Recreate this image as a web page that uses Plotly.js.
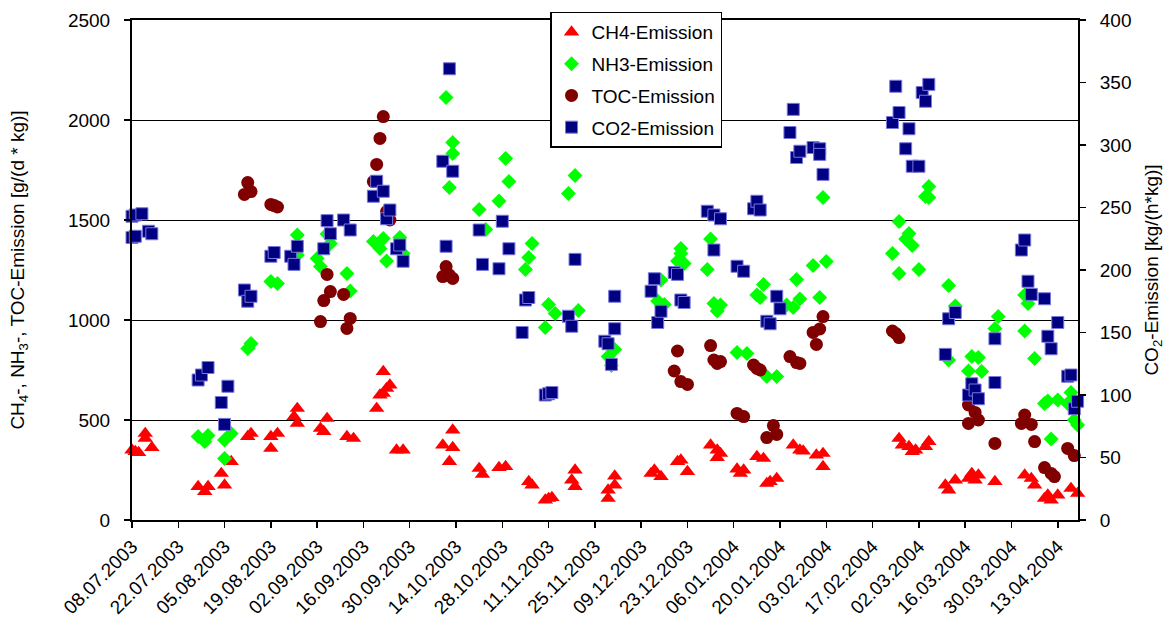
<!DOCTYPE html>
<html>
<head>
<meta charset="utf-8">
<script src="https://cdn.plot.ly/plotly-3.0.1.min.js"></script>
<style>html,body{margin:0;padding:0;background:#fff;}#chart{width:1167px;height:622px;}</style>
</head>
<body>
<div id="chart"></div>
<script>
// ---- data ----
const ch4Dates = ['2003-07-08','2003-07-09','2003-07-10','2003-07-12','2003-07-12','2003-07-14','2003-07-28','2003-07-30','2003-07-31','2003-08-04','2003-08-05','2003-08-07','2003-08-12','2003-08-13','2003-08-19','2003-08-19','2003-08-21','2003-08-26','2003-08-27','2003-08-27','2003-09-03','2003-09-04','2003-09-05','2003-09-11','2003-09-13','2003-09-20','2003-09-21','2003-09-22','2003-09-22','2003-09-23','2003-09-24','2003-09-26','2003-09-28','2003-10-10','2003-10-12','2003-10-13','2003-10-13','2003-10-21','2003-10-22','2003-10-27','2003-10-29','2003-11-05','2003-11-06','2003-11-10','2003-11-11','2003-11-12','2003-11-18','2003-11-19','2003-11-19','2003-11-29','2003-11-29','2003-12-01','2003-12-01','2003-12-12','2003-12-13','2003-12-15','2003-12-20','2003-12-21','2003-12-23','2003-12-30','2004-01-01','2004-01-01','2004-01-02','2004-01-07','2004-01-08','2004-01-09','2004-01-13','2004-01-15','2004-01-16','2004-01-17','2004-01-19','2004-01-24','2004-01-26','2004-01-27','2004-01-31','2004-02-02','2004-02-02','2004-02-25','2004-02-26','2004-02-28','2004-02-29','2004-03-01','2004-03-04','2004-03-05','2004-03-10','2004-03-11','2004-03-13','2004-03-17','2004-03-18','2004-03-19','2004-03-20','2004-03-25','2004-04-03','2004-04-05','2004-04-06','2004-04-09','2004-04-10','2004-04-11','2004-04-13','2004-04-17','2004-04-19'];
const ch4Values = [350,342,337,408,433,362,167,142,167,233,175,292,417,433,417,358,433,517,483,558,458,442,508,417,408,558,625,633,742,658,675,350,350,375,292,450,362,258,228,262,267,192,175,100,108,112,200,167,250,150,108,220,175,233,250,217,292,300,242,375,350,312,333,255,233,250,317,308,183,192,208,375,350,345,325,333,267,408,375,367,342,350,367,392,175,150,200,208,233,200,225,192,225,208,175,108,125,100,125,158,133];

const nh3Dates = ['2003-07-28','2003-07-30','2003-07-31','2003-08-05','2003-08-05','2003-08-07','2003-08-12','2003-08-13','2003-08-19','2003-08-21','2003-08-27','2003-08-27','2003-09-02','2003-09-03','2003-09-05','2003-09-06','2003-09-11','2003-09-12','2003-09-19','2003-09-21','2003-09-22','2003-09-23','2003-09-27','2003-09-28','2003-10-11','2003-10-12','2003-10-13','2003-10-13','2003-10-21','2003-10-23','2003-10-27','2003-10-29','2003-10-30','2003-11-04','2003-11-05','2003-11-06','2003-11-10','2003-11-11','2003-11-13','2003-11-17','2003-11-19','2003-11-20','2003-11-29','2003-11-30','2003-12-01','2003-12-14','2003-12-15','2003-12-16','2003-12-20','2003-12-21','2003-12-21','2003-12-22','2003-12-29','2003-12-30','2003-12-31','2004-01-01','2004-01-02','2004-01-07','2004-01-10','2004-01-13','2004-01-14','2004-01-15','2004-01-16','2004-01-19','2004-01-22','2004-01-24','2004-01-25','2004-01-26','2004-01-30','2004-02-01','2004-02-02','2004-02-03','2004-02-23','2004-02-25','2004-02-25','2004-02-27','2004-02-28','2004-02-29','2004-03-02','2004-03-04','2004-03-05','2004-03-05','2004-03-11','2004-03-11','2004-03-13','2004-03-17','2004-03-18','2004-03-20','2004-03-21','2004-03-25','2004-03-26','2004-04-03','2004-04-03','2004-04-04','2004-04-06','2004-04-09','2004-04-10','2004-04-11','2004-04-13','2004-04-16','2004-04-17','2004-04-18','2004-04-19'];
const nh3Values = [417,392,422,400,308,433,858,883,1192,1183,1425,1325,1308,1267,1430,1383,1233,1145,1392,1358,1408,1295,1412,1333,2112,1662,1888,1833,1553,1453,1595,1808,1692,1253,1312,1383,963,1078,1033,1633,1722,1047,817,772,853,1095,1200,1078,1295,1333,1358,1283,1253,1405,1083,1045,1075,837,833,1125,1112,1178,717,717,1075,1062,1203,1105,1272,1112,1612,1292,1333,1492,1233,1405,1433,1372,1253,1617,1612,1667,800,1172,1070,745,817,813,742,958,1017,945,1125,1083,808,583,595,405,600,583,638,500,475];

const tocDates = ['2003-08-11','2003-08-12','2003-08-13','2003-08-19','2003-08-20','2003-08-21','2003-09-03','2003-09-04','2003-09-05','2003-09-06','2003-09-10','2003-09-11','2003-09-12','2003-09-19','2003-09-20','2003-09-21','2003-09-22','2003-09-23','2003-09-24','2003-10-10','2003-10-11','2003-10-12','2003-10-13','2003-12-19','2003-12-20','2003-12-21','2003-12-23','2003-12-30','2003-12-31','2004-01-01','2004-01-02','2004-01-07','2004-01-09','2004-01-12','2004-01-13','2004-01-14','2004-01-16','2004-01-18','2004-01-19','2004-01-23','2004-01-25','2004-01-26','2004-01-30','2004-01-31','2004-02-01','2004-02-02','2004-02-23','2004-02-24','2004-02-25','2004-03-17','2004-03-17','2004-03-19','2004-03-20','2004-03-25','2004-04-02','2004-04-03','2004-04-05','2004-04-06','2004-04-09','2004-04-11','2004-04-12','2004-04-16','2004-04-18'];
const tocValues = [1628,1687,1642,1578,1572,1565,992,1097,1228,1142,1128,958,1008,1692,1778,1908,2017,1542,1500,1217,1267,1225,1208,745,845,692,678,872,800,783,792,533,517,775,758,750,412,472,428,817,787,783,938,878,955,1017,945,933,912,575,483,538,500,383,483,525,478,392,262,233,217,358,322];

const co2Dates = ['2003-07-08','2003-07-09','2003-07-11','2003-07-08','2003-07-09','2003-07-13','2003-07-14','2003-07-28','2003-07-29','2003-07-31','2003-08-04','2003-08-05','2003-08-06','2003-08-11','2003-08-12','2003-08-13','2003-08-19','2003-08-20','2003-08-25','2003-08-26','2003-08-27','2003-09-04','2003-09-05','2003-09-06','2003-09-10','2003-09-12','2003-09-19','2003-09-20','2003-09-22','2003-09-23','2003-09-24','2003-09-26','2003-09-27','2003-09-28','2003-10-10','2003-10-11','2003-10-12','2003-10-13','2003-10-21','2003-10-22','2003-10-27','2003-10-28','2003-10-30','2003-11-03','2003-11-04','2003-11-05','2003-11-10','2003-11-11','2003-11-12','2003-11-17','2003-11-18','2003-11-19','2003-11-28','2003-11-29','2003-11-30','2003-12-01','2003-12-01','2003-12-12','2003-12-13','2003-12-14','2003-12-15','2003-12-19','2003-12-20','2003-12-21','2003-12-22','2003-12-29','2003-12-31','2004-01-02','2003-12-31','2004-01-07','2004-01-09','2004-01-12','2004-01-13','2004-01-14','2004-01-16','2004-01-17','2004-01-19','2004-01-20','2004-01-23','2004-01-24','2004-01-25','2004-01-26','2004-01-30','2004-02-01','2004-02-01','2004-02-02','2004-02-23','2004-02-24','2004-02-25','2004-02-27','2004-02-28','2004-02-29','2004-03-02','2004-03-03','2004-03-04','2004-03-05','2004-03-10','2004-03-11','2004-03-13','2004-03-17','2004-03-18','2004-03-19','2004-03-20','2004-03-25','2004-03-25','2004-04-02','2004-04-03','2004-04-04','2004-04-05','2004-04-09','2004-04-10','2004-04-11','2004-04-13','2004-04-16','2004-04-17','2004-04-18','2004-04-19'];
const co2Values = [243,244,245,226,227,231,229,112,116,122,94,76.5,107,184,175,179,211,214,211,204.5,219,217,239.5,229,240,232,259,271,263,241,248,217,220,207,287,219,361,279,232,204.5,201,239,217,150,176,178,100,101,102,163,155,208.5,143,141,124.5,179,153,183,193,158,167,198,196.5,176,174,247,244,241,216,203,199,249,255,248,159,157,179,169,310,328.5,290,295,298,297,292.5,276.5,318,347,326,297,313,283,283,342,335,348.5,132.5,161,166,100,109,104,97,145,110,216,224,191,180.5,177,147,137,158,115,116,89,95];

const seriesNames = ['CH4-Emission','NH3-Emission','TOC-Emission','CO2-Emission'];
const leftTitle = 'CH<sub>4</sub>-, NH<sub>3</sub>-, TOC-Emission [g/(d * kg)]';
const rightTitle = 'CO<sub>2</sub>-Emission [kg/(h*kg)]';

const FONT = 'Liberation Sans, Arial, sans-serif';

const traces = [
  {x: ch4Dates, y: ch4Values, name: seriesNames[0], type: 'scatter', mode: 'markers', yaxis: 'y', legendgroup: 'a', cliponaxis: false,
   marker: {symbol: 'triangle-up', size: 13.5, color: '#FF0000', line: {width: 0}}},
  {x: nh3Dates, y: nh3Values, name: seriesNames[1], type: 'scatter', mode: 'markers', yaxis: 'y', legendgroup: 'b', cliponaxis: false,
   marker: {symbol: 'diamond', size: 11.5, color: '#00FF00', line: {width: 0}}},
  {x: tocDates, y: tocValues, name: seriesNames[2], type: 'scatter', mode: 'markers', yaxis: 'y', legendgroup: 'c', cliponaxis: false,
   marker: {symbol: 'circle', size: 13, color: '#800000', line: {width: 0}}},
  {x: co2Dates, y: co2Values, name: seriesNames[3], type: 'scatter', mode: 'markers', yaxis: 'y2', legendgroup: 'd', cliponaxis: false,
   marker: {symbol: 'square', size: 12, color: '#000080', line: {width: 1, color: '#7777dd'}}}
];

const layout = {
  width: 1167, height: 622,
  margin: {l: 132, r: 89, t: 20, b: 102, pad: 0},
  paper_bgcolor: '#ffffff', plot_bgcolor: '#ffffff',
  font: {family: FONT, size: 19, color: '#000000'},
  showlegend: true,
  legend: {x: 0.4419, y: 1.0166, xanchor: 'left', yanchor: 'top', bgcolor: '#ffffff', bordercolor: '#000000', borderwidth: 1.5,
           tracegroupgap: 4, font: {family: FONT, size: 19, color: '#000'}},
  xaxis: {type: 'date', range: ['2003-07-08', '2004-04-19 03:00'], tick0: '2003-07-08', dtick: 14 * 86400000,
          tickformat: '%d.%m.%Y', tickangle: -45, ticks: 'outside', ticklen: 6, tickwidth: 1.5, tickcolor: '#000',
          showline: true, linecolor: '#000', linewidth: 2, mirror: true, showgrid: false, zeroline: false,
          tickfont: {family: FONT, size: 19, color: '#000'}},
  yaxis: {range: [0, 2500], dtick: 500, tick0: 0, ticks: 'outside', ticklen: 6, tickwidth: 1.5, tickcolor: '#000',
          showline: true, linecolor: '#000', linewidth: 2, showgrid: true, gridcolor: '#000', gridwidth: 1, zeroline: false,
          ticklabelstandoff: 10,
          title: {text: leftTitle, font: {family: FONT, size: 19, color: '#000'}, standoff: 38}},
  yaxis2: {range: [0, 400], dtick: 50, tick0: 0, overlaying: 'y', side: 'right', ticks: 'outside', ticklen: 6, tickwidth: 1.5, tickcolor: '#000',
           showline: true, linecolor: '#000', linewidth: 2, showgrid: false, zeroline: false, ticklabelstandoff: 10,
           title: {text: rightTitle, font: {family: FONT, size: 19, color: '#000'}, standoff: 14}},
  yaxis3: {range: [0, 400], dtick: 50, tick0: 0, overlaying: 'y', side: 'right', ticks: 'inside', ticklen: 6, tickwidth: 1.5, tickcolor: '#000',
           showticklabels: false, showline: false, showgrid: false, zeroline: false}
};

Plotly.newPlot('chart', traces, layout, {displayModeBar: false, staticPlot: true});
</script>
</body>
</html>
